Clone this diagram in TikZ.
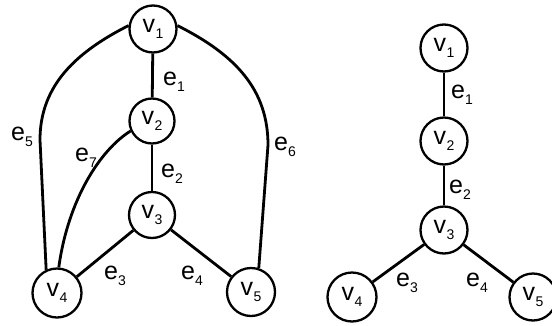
\documentclass[tikz,border=0pt]{standalone}
\usepackage{fontspec}
\setmainfont{Liberation Sans}
\newcommand{\lb}[2]{#1\kern0.3pt\raisebox{-0.25em}{\fontsize{14}{14}\selectfont #2}}
\begin{document}
\begin{tikzpicture}[x=1pt,y=-1pt,
  vert/.style={circle,draw,line width=2.3pt,minimum size=47pt,inner sep=0pt,fill=white,font=\fontsize{25}{26}\selectfont},
  edge/.style={line width=2.8pt},
  elab/.style={font=\fontsize{25}{26}\selectfont,inner sep=0pt}]
\useasboundingbox (0,0) rectangle (552,325);
% left graph
\node[vert] (a1) at (153,29) {\lb{v}{1}};
\node[vert,minimum size=45pt] (a2) at (152,121) {\lb{v}{2}};
\node[vert,minimum size=46pt] (a3) at (152,215) {\lb{v}{3}};
\node[vert,minimum size=49pt] (a4) at (57,293) {\lb{v}{4}};
\node[vert,minimum size=48pt] (a5) at (251,292) {\lb{v}{5}};
\draw[edge] (a1) -- (a2);
\draw[edge] (a2) -- (a3);
\draw[edge] (a3) -- (a4);
\draw[edge] (a3) -- (a5);
\draw[edge] (a1.172) .. controls (70,55) and (40,90) .. (40,140) -- (a4.115);
\draw[edge] (a1.8) .. controls (236,55) and (268,90) .. (268,145) -- (a5.72);
\draw[edge] (a2.205) .. controls (100,150) and (68,200) .. (a4.86);
\node[elab] (l1) at (174,82) {\lb{e}{1}};
\node[elab] (l2) at (172,174) {\lb{e}{2}};
\node[elab] (l3) at (115,276) {\lb{e}{3}};
\node[elab] (l4) at (192,276) {\lb{e}{4}};
\node[elab] (l5) at (22,137) {\lb{e}{5}};
\node[elab] (l6) at (285,147) {\lb{e}{6}};
\node[elab] (l7) at (86,158) {\lb{e}{7}};
% right graph
\node[vert] (b1) at (444,48) {\lb{v}{1}};
\node[vert] (b2) at (444,141) {\lb{v}{2}};
\node[vert] (b3) at (444,230) {\lb{v}{3}};
\node[vert,minimum size=49pt] (b4) at (352,297) {\lb{v}{4}};
\node[vert] (b5) at (533,297) {\lb{v}{5}};
\draw[edge] (b1) -- (b2);
\draw[edge] (b2) -- (b3);
\draw[edge] (b3) -- (b4);
\draw[edge] (b3) -- (b5);
\node[elab] (m1) at (462,95) {\lb{e}{1}};
\node[elab] (m2) at (460,190) {\lb{e}{2}};
\node[elab] (m3) at (407,283) {\lb{e}{3}};
\node[elab] (m4) at (477,283) {\lb{e}{4}};
\end{tikzpicture}
\end{document}
